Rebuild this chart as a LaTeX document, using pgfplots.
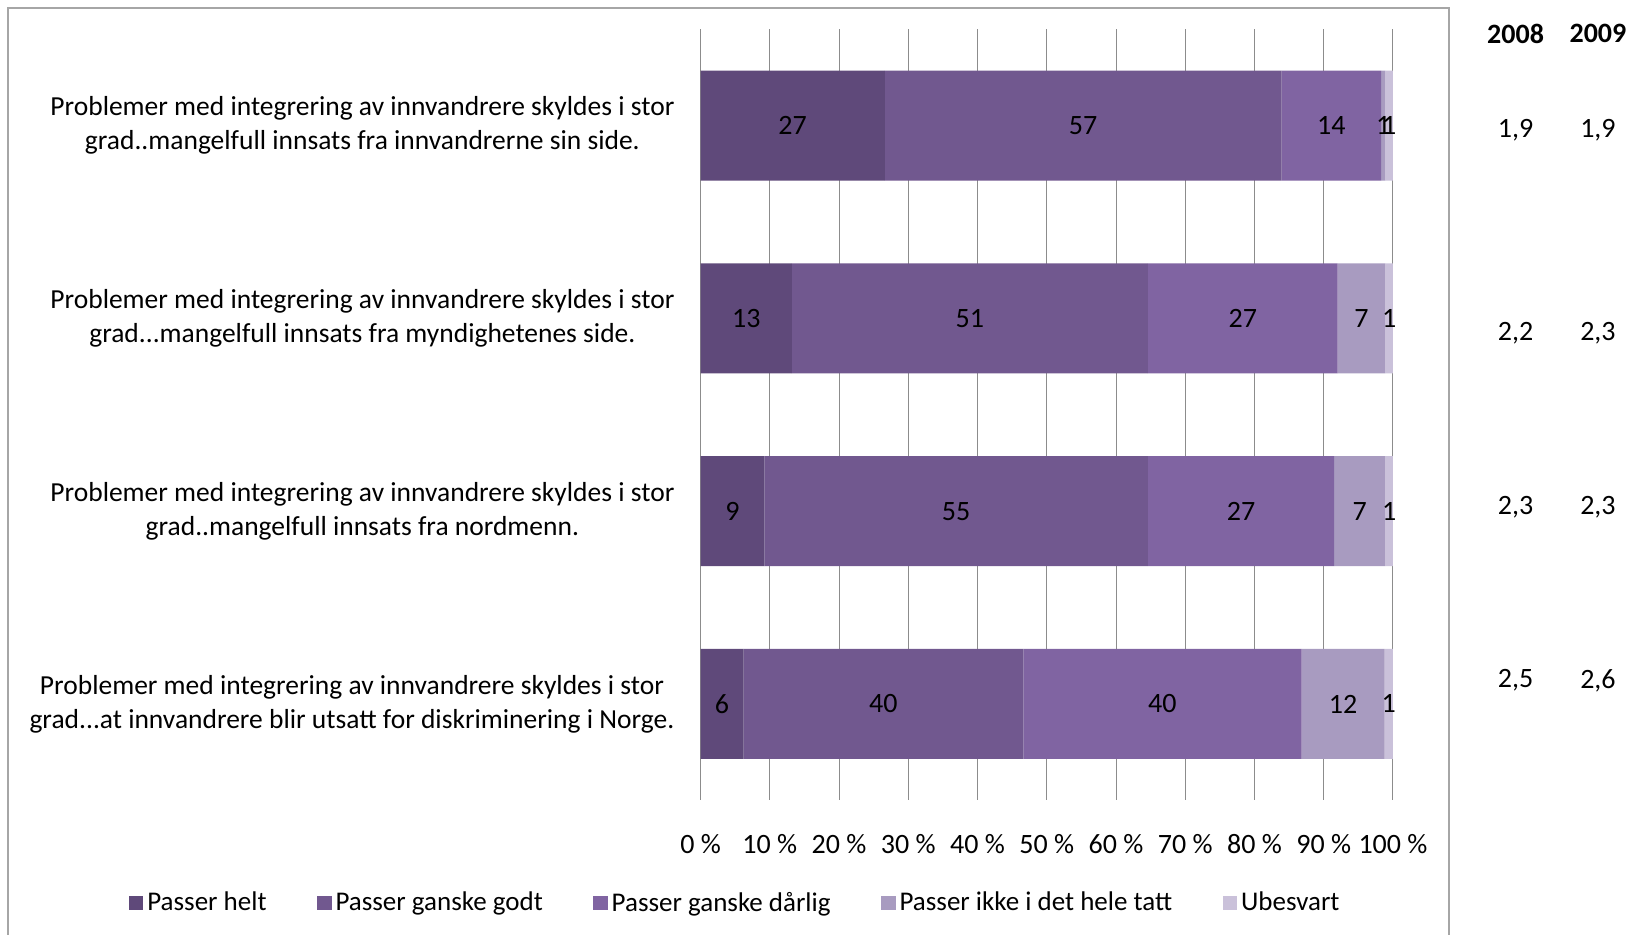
\documentclass[border=0pt]{standalone}
\usepackage{pgfplots}
\pgfplotsset{compat=1.18}
\usepackage{fontspec}
\setmainfont{Carlito}
\definecolor{c1}{HTML}{5F497A}
\definecolor{c2}{HTML}{71588F}
\definecolor{c3}{HTML}{8064A2}
\definecolor{c4}{HTML}{A89BC0}
\definecolor{c5}{HTML}{CAC1DA}
\definecolor{gridc}{HTML}{8C8C8C}
\definecolor{framec}{HTML}{A6A6A6}
\newcommand{\fs}{\fontsize{14pt}{17.2pt}\selectfont}
\newcommand{\fy}{\fontsize{13.75pt}{16.9pt}\selectfont}
\newcommand{\fl}{\fontsize{13.5pt}{16.5pt}\selectfont}
\newcommand{\ylab}[1]{\ifcase#1
Problemer med integrering av innvandrere skyldes i stor\\grad..mangelfull innsats fra innvandrerne sin side.\or
Problemer med integrering av innvandrere skyldes i stor\\grad...mangelfull innsats fra myndighetenes side.\or
Problemer med integrering av innvandrere skyldes i stor\\grad..mangelfull innsats fra nordmenn.\or
Problemer med integrering av innvandrere skyldes i stor\\grad...at innvandrere blir utsatt for diskriminering i Norge.\fi}
\begin{document}
\begin{tikzpicture}
\draw[color=framec, line width=0.8pt] (4pt,-470pt) -- (4pt,-4pt) -- (724.5pt,-4pt) -- (724.5pt,-470pt);
\begin{axis}[
  at={(350.3pt,-14.55pt)}, anchor=north west,
  scale only axis, width=346.2pt, height=385.65pt,
  xbar stacked, bar width=55pt,
  xmin=0, xmax=100, ymin=-0.5, ymax=3.5, y dir=reverse,
  axis line style={draw=none},
  major tick length=0pt,
  /pgf/number format/assume math mode=true,
  xtick={0,10,...,100},
  xticklabel={\pgfmathprintnumber{\tick}~\%},
  xmajorgrids, grid style={gridc, line width=0.5pt},
  xticklabel style={font=\fs, yshift=-13.6pt},
  ytick={0,1,2,3},
  yticklabel={\ylab{\ticknum}},
  yticklabel style={font=\fy, align=center, xshift=-9.6pt},
  clip=false,
  point meta=rawx,
  nodes near coords={\pgfmathprintnumber[fixed,precision=0,assume math mode=true]{\pgfplotspointmeta}},
  every node near coord/.append style={anchor=center, font=\fs, text=black},
  legend columns=5,
  legend style={at={(axis description cs:0.0514,-0.133)}, anchor=center, draw=none, font=\fl,
     /tikz/every even column/.append style={column sep=23.3pt}},
  legend image code/.code={\fill[#1] (0pt,-3.6pt) rectangle (7.2pt,3.6pt);},
]
\addplot[fill=c1, draw=none] coordinates {(26.6,0) (13.2,1) (9.2,2) (6.2,3)};
\addplot[fill=c2, draw=none] coordinates {(57.3,0) (51.4,1) (55.4,2) (40.4,3)};
\addplot[fill=c3, draw=none] coordinates {(14.4,0) (27.4,1) (26.9,2) (40.2,3)};
\addplot[fill=c4, draw=none] coordinates {(0.6,0) (6.9,1) (7.4,2) (12.0,3)};
\addplot[fill=c5, draw=none] coordinates {(1.1,0) (1.1,1) (1.1,2) (1.2,3)};
\legend{Passer helt, Passer ganske godt, Passer ganske dårlig, Passer ikke i det hele tatt, Ubesvart}
\node[font=\bfseries\fs] at (axis cs:117.7,-0.476) {2008};
\node[font=\bfseries\fs] at (axis cs:129.6,-0.476) {2009};
\node[font=\fs] at (axis cs:117.7,0.022) {1,9};
\node[font=\fs] at (axis cs:129.6,0.022) {1,9};
\node[font=\fs] at (axis cs:117.7,1.078) {2,2};
\node[font=\fs] at (axis cs:129.6,1.078) {2,3};
\node[font=\fs] at (axis cs:117.7,1.981) {2,3};
\node[font=\fs] at (axis cs:129.6,1.981) {2,3};
\node[font=\fs] at (axis cs:117.7,2.879) {2,5};
\node[font=\fs] at (axis cs:129.6,2.879) {2,6};
\end{axis}
\pgfresetboundingbox
\path[use as bounding box] (0pt,0pt) rectangle (815pt,-467.5pt);
\end{tikzpicture}
\end{document}
